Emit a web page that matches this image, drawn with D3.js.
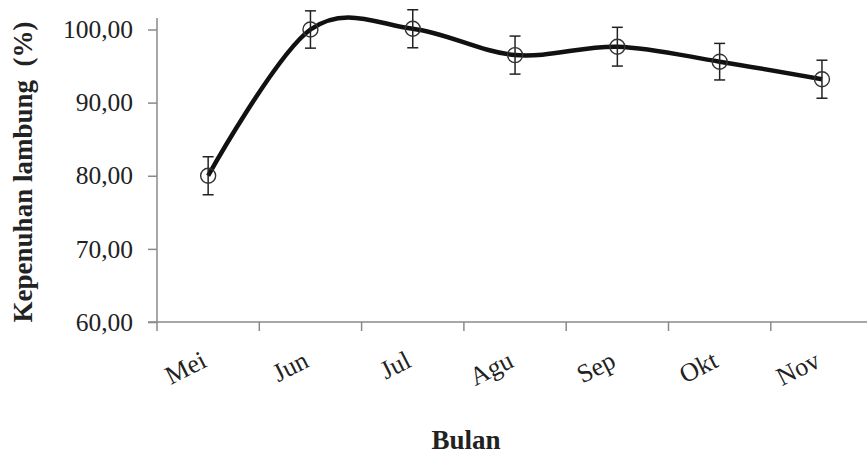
<!DOCTYPE html>
<html>
<head>
<meta charset="utf-8">
<script src="https://cdn.jsdelivr.net/npm/d3@7/dist/d3.min.js"></script>
<style>
  html, body { margin: 0; padding: 0; background: #fff; }
  svg { display: block; }
  text { font-family: "Liberation Serif", "Times New Roman", serif; fill: #222; }
</style>
</head>
<body>
<svg id="chart" width="867" height="454"></svg>
<script>
const months = ["Mei", "Jun", "Jul", "Agu", "Sep", "Okt", "Nov"];
const values = [80.0, 100.0, 100.1, 96.5, 97.65, 95.6, 93.2];
const errors = [2.6, 2.55, 2.6, 2.6, 2.65, 2.5, 2.6];
const yTicks = [60, 70, 80, 90, 100];
const yTitle = "Kepenuhan lambung\u00a0\u00a0(%)";
const xTitle = "Bulan";

const svg = d3.select("#chart");
const W = 867, H = 454;
const x0 = 157, band = 102.3;
const x = d3.scaleBand().domain(months).range([x0, x0 + band * months.length]).padding(0);
const y = d3.scaleLinear().domain([60, 100]).range([322, 29.5]);
const fmt = v => d3.format(".2f")(v).replace(".", ",");
const axisColor = "#8a8a8a";

// Y axis
const yAxis = d3.axisLeft(y).tickValues(yTicks).tickSize(9).tickPadding(15).tickFormat(fmt);
const gy = svg.append("g").attr("transform", `translate(${x0},0)`).call(yAxis);
gy.select(".domain").remove();
gy.selectAll(".tick line").attr("stroke", axisColor).attr("stroke-width", 1.5);
gy.selectAll(".tick text").attr("font-size", 25.5).attr("fill", "#222")
  .attr("font-family", "Liberation Serif").attr("dy", "0.32em");
gy.append("line").attr("x1", 0).attr("x2", 0).attr("y1", 18).attr("y2", y(60))
  .attr("stroke", axisColor).attr("stroke-width", 1.5);

// X axis
const gx = svg.append("g").attr("transform", `translate(0,${y(60)})`);
gx.append("line").attr("x1", x0 - 9).attr("x2", W).attr("y1", 0).attr("y2", 0)
  .attr("stroke", axisColor).attr("stroke-width", 1.5);
gx.selectAll("line.tk").data(months).join("line").attr("class", "tk")
  .attr("x1", d => x(d)).attr("x2", d => x(d)).attr("y1", 0).attr("y2", 9)
  .attr("stroke", axisColor).attr("stroke-width", 1.5);
gx.selectAll("text.lbl").data(months).join("text").attr("class", "lbl")
  .attr("text-anchor", "end").attr("font-size", 26)
  .attr("transform", d => `translate(${x(d) + x.bandwidth() / 2},${44}) rotate(-27)`)
  .text(d => d);

// Smoothed line
const line = d3.line()
  .x((d, i) => x(months[i]) + x.bandwidth() / 2)
  .y(d => y(d))
  .curve(d3.curveCatmullRom.alpha(0));
svg.append("path").datum(values).attr("d", line)
  .attr("fill", "none").attr("stroke", "#111").attr("stroke-width", 4.5)
  .attr("stroke-linejoin", "round");

// Error bars
const eb = svg.append("g").attr("stroke", "#222").attr("stroke-width", 1.5);
values.forEach((v, i) => {
  const cx = x(months[i]) + x.bandwidth() / 2;
  eb.append("line").attr("x1", cx).attr("x2", cx).attr("y1", y(v + errors[i])).attr("y2", y(v - errors[i]));
  eb.append("line").attr("x1", cx - 5.5).attr("x2", cx + 5.5).attr("y1", y(v + errors[i])).attr("y2", y(v + errors[i]));
  eb.append("line").attr("x1", cx - 5.5).attr("x2", cx + 5.5).attr("y1", y(v - errors[i])).attr("y2", y(v - errors[i]));
});

// Markers
svg.append("g").selectAll("circle").data(values).join("circle")
  .attr("cx", (d, i) => x(months[i]) + x.bandwidth() / 2)
  .attr("cy", d => y(d)).attr("r", 7.5)
  .attr("fill", "none").attr("stroke", "#333").attr("stroke-width", 1.4);

// Titles
svg.append("text").attr("text-anchor", "middle").attr("font-weight", "bold").attr("font-size", 27)
  .attr("transform", `translate(32,172) rotate(-90)`).text(yTitle);
svg.append("text").attr("text-anchor", "middle").attr("font-weight", "bold").attr("font-size", 27)
  .attr("x", 466).attr("y", 449).text(xTitle);
</script>
</body>
</html>
